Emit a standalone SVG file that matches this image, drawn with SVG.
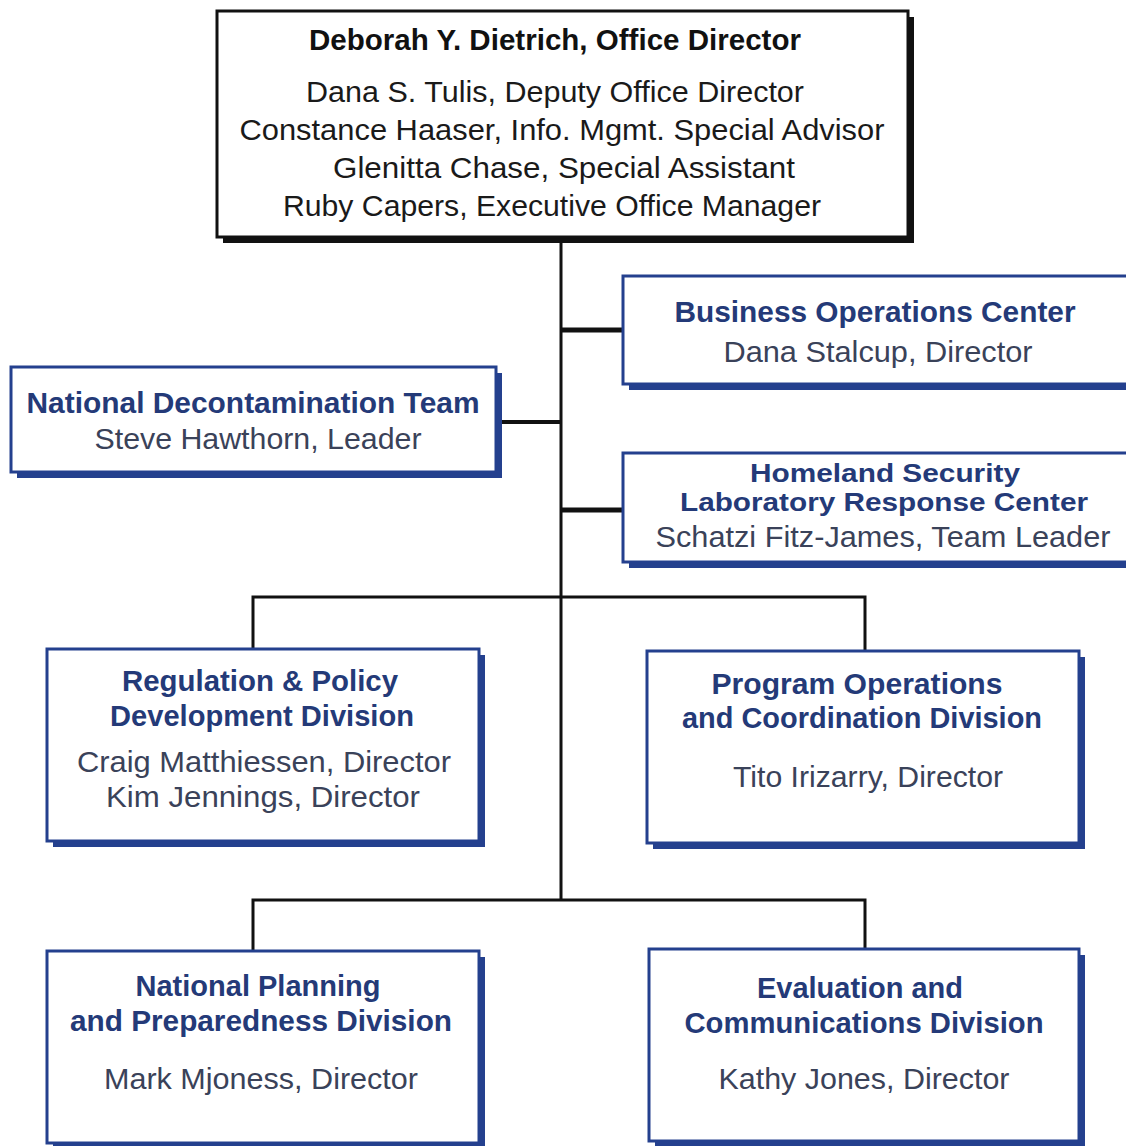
<svg xmlns="http://www.w3.org/2000/svg" width="1126" height="1146" viewBox="0 0 1126 1146">
<style>
.bg{fill:#ffffff}
.box{fill:#ffffff;stroke:#24408e;stroke-width:3}
.sh{fill:#24408e}
.boxk{fill:#ffffff;stroke:#111111;stroke-width:3}
.shk{fill:#111111}
.t{font-family:"Liberation Sans",Arial,sans-serif;font-size:29px;text-anchor:middle}
.sm{font-size:26px}
.hb{font-weight:bold;fill:#243a78}
.hk{font-weight:bold;fill:#111111}
.nm{fill:#3a4259}
.nk{fill:#1a1a1a}
.ln{stroke:#111111;fill:none}
</style>
<rect class="bg" x="0" y="0" width="1126" height="1146"/>
<g id="connectors">
<line class="ln" x1="561" y1="238" x2="561" y2="900" stroke-width="3"/>
<line class="ln" x1="561" y1="330" x2="623" y2="330" stroke-width="5"/>
<line class="ln" x1="496" y1="422" x2="561" y2="422" stroke-width="4"/>
<line class="ln" x1="561" y1="510" x2="623" y2="510" stroke-width="5"/>
<polyline class="ln" points="253,650 253,597 865,597 865,652" stroke-width="3"/>
<polyline class="ln" points="253,952 253,900 865,900 865,950" stroke-width="3"/>
</g>
<g id="office-director">
<rect class="shk" x="223" y="17" width="691" height="226"/>
<rect class="boxk" x="217" y="11" width="691" height="226"/>
<text class="t hk" x="555" y="50" textLength="492" lengthAdjust="spacingAndGlyphs">Deborah Y. Dietrich, Office Director</text>
<text class="t nk" x="555" y="102" textLength="498" lengthAdjust="spacingAndGlyphs">Dana S. Tulis, Deputy Office Director</text>
<text class="t nk" x="562" y="140" textLength="645" lengthAdjust="spacingAndGlyphs">Constance Haaser, Info. Mgmt. Special Advisor</text>
<text class="t nk" x="564" y="178" textLength="462" lengthAdjust="spacingAndGlyphs">Glenitta Chase, Special Assistant</text>
<text class="t nk" x="552" y="216" textLength="538" lengthAdjust="spacingAndGlyphs">Ruby Capers, Executive Office Manager</text>
</g>
<g id="business-operations">
<rect class="sh" x="629" y="282" width="510" height="108"/>
<rect class="box" x="623" y="276" width="510" height="108"/>
<text class="t hb" x="875" y="322" textLength="401" lengthAdjust="spacingAndGlyphs">Business Operations Center</text>
<text class="t nm" x="878" y="362" textLength="309" lengthAdjust="spacingAndGlyphs">Dana Stalcup, Director</text>
</g>
<g id="decontamination-team">
<rect class="sh" x="17" y="373" width="485" height="105"/>
<rect class="box" x="11" y="367" width="485" height="105"/>
<text class="t hb" x="253" y="413" textLength="453" lengthAdjust="spacingAndGlyphs">National Decontamination Team</text>
<text class="t nm" x="258" y="449" textLength="327" lengthAdjust="spacingAndGlyphs">Steve Hawthorn, Leader</text>
</g>
<g id="homeland-security">
<rect class="sh" x="629" y="459" width="510" height="109"/>
<rect class="box" x="623" y="453" width="510" height="109"/>
<text class="t sm hb" x="885" y="482" textLength="270" lengthAdjust="spacingAndGlyphs">Homeland Security</text>
<text class="t sm hb" x="884" y="511" textLength="408" lengthAdjust="spacingAndGlyphs">Laboratory Response Center</text>
<text class="t nm" x="883" y="547" textLength="455" lengthAdjust="spacingAndGlyphs">Schatzi Fitz-James, Team Leader</text>
</g>
<g id="regulation-policy">
<rect class="sh" x="53" y="655" width="432" height="192"/>
<rect class="box" x="47" y="649" width="432" height="192"/>
<text class="t hb" x="260" y="691" textLength="276" lengthAdjust="spacingAndGlyphs">Regulation &amp; Policy</text>
<text class="t hb" x="262" y="726" textLength="304" lengthAdjust="spacingAndGlyphs">Development Division</text>
<text class="t nm" x="264" y="772" textLength="374" lengthAdjust="spacingAndGlyphs">Craig Matthiessen, Director</text>
<text class="t nm" x="263" y="807" textLength="314" lengthAdjust="spacingAndGlyphs">Kim Jennings, Director</text>
</g>
<g id="program-operations">
<rect class="sh" x="653" y="657" width="432" height="192"/>
<rect class="box" x="647" y="651" width="432" height="192"/>
<text class="t hb" x="857" y="694" textLength="291" lengthAdjust="spacingAndGlyphs">Program Operations</text>
<text class="t hb" x="862" y="728" textLength="360" lengthAdjust="spacingAndGlyphs">and Coordination Division</text>
<text class="t nm" x="868" y="787" textLength="270" lengthAdjust="spacingAndGlyphs">Tito Irizarry, Director</text>
</g>
<g id="planning-preparedness">
<rect class="sh" x="53" y="957" width="432" height="192"/>
<rect class="box" x="47" y="951" width="432" height="192"/>
<text class="t hb" x="258" y="996" textLength="245" lengthAdjust="spacingAndGlyphs">National Planning</text>
<text class="t hb" x="261" y="1031" textLength="382" lengthAdjust="spacingAndGlyphs">and Preparedness Division</text>
<text class="t nm" x="261" y="1089" textLength="314" lengthAdjust="spacingAndGlyphs">Mark Mjoness, Director</text>
</g>
<g id="evaluation-communications">
<rect class="sh" x="655" y="955" width="430" height="192"/>
<rect class="box" x="649" y="949" width="430" height="192"/>
<text class="t hb" x="860" y="998" textLength="206" lengthAdjust="spacingAndGlyphs">Evaluation and</text>
<text class="t hb" x="864" y="1033" textLength="359" lengthAdjust="spacingAndGlyphs">Communications Division</text>
<text class="t nm" x="864" y="1089" textLength="291" lengthAdjust="spacingAndGlyphs">Kathy Jones, Director</text>
</g>
</svg>
